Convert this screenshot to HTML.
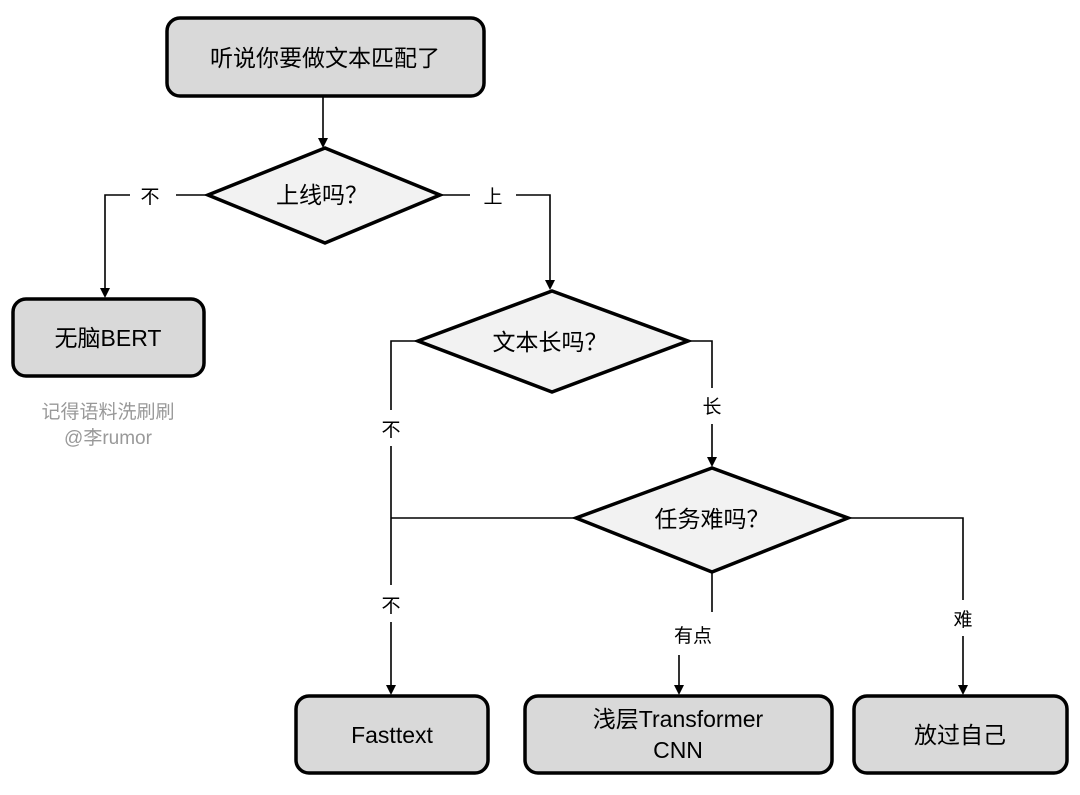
<!DOCTYPE html>
<html><head><meta charset="utf-8"><style>
body{margin:0;background:#fff;}
svg text{font-family:"Liberation Sans","Noto Sans CJK SC",sans-serif;}
</style></head><body>
<svg width="1080" height="790" viewBox="0 0 1080 790" xmlns="http://www.w3.org/2000/svg">
<defs><marker id="a" markerWidth="10" markerHeight="10" refX="5" refY="9" orient="auto" markerUnits="userSpaceOnUse"><path d="M0,0 L10,0 L5,10 Z" fill="#000" transform="rotate(0)"/></marker></defs>
<g fill="none" stroke="#000" stroke-width="1.6">
<path d="M323,96 V146"/>
<path d="M208,195 H176 M130,195 H105 V296"/>
<path d="M440,195 H470 M516,195 H550 V288"/>
<path d="M417,341 H391 V410 M391,446 V585 M391,622 V693"/>
<path d="M688,341 H712 V388 M712,424 V465"/>
<path d="M575,518 H391"/>
<path d="M848,518 H963 V600 M963,636 V693"/>
<path d="M712,572 V612 M679,655 V693"/>
</g>
<g fill="#000">
<path d="M318,138 L328,138 L323,148 Z"/>
<path d="M100,288 L110,288 L105,298 Z"/>
<path d="M545,280 L555,280 L550,290 Z"/>
<path d="M707,457 L717,457 L712,467 Z"/>
<path d="M386,685 L396,685 L391,695 Z"/>
<path d="M674,685 L684,685 L679,695 Z"/>
<path d="M958,685 L968,685 L963,695 Z"/>
</g>
<g stroke="#000" stroke-width="3.5" fill="#d9d9d9">
<rect x="167" y="18" width="317" height="78" rx="13"/>
<rect x="13" y="299" width="191" height="77" rx="13"/>
<rect x="296" y="696" width="192" height="77" rx="13"/>
<rect x="525" y="696" width="307" height="77" rx="13"/>
<rect x="854" y="696" width="213" height="77" rx="13"/>
</g>
<g stroke="#000" stroke-width="3.5" fill="#f2f2f2">
<path d="M208,195 L325,148 L440,195 L325,243 Z"/>
<path d="M418,341 L552,291 L688,341 L552,392 Z"/>
<path d="M576,518 L712,468 L848,518 L712,572 Z"/>
</g>
<g font-size="23" text-anchor="middle" fill="#000">
<text x="325" y="66">听说你要做文本匹配了</text>
<text x="108" y="346">无脑BERT</text>
<text x="322" y="203">上线吗？</text>
<text x="550" y="350">文本长吗？</text>
<text x="712" y="527">任务难吗？</text>
<text x="392" y="743">Fasttext</text>
<text x="678" y="727">浅层Transformer</text>
<text x="678" y="758">CNN</text>
<text x="960" y="743">放过自己</text>
</g>
<g font-size="19" text-anchor="middle" fill="#000">
<text x="150" y="203">不</text>
<text x="493" y="203">上</text>
<text x="391" y="436">不</text>
<text x="391" y="612">不</text>
<text x="712" y="413">长</text>
<text x="693" y="642">有点</text>
<text x="963" y="626">难</text>
</g>
<g font-size="19" text-anchor="middle" fill="#999">
<text x="108" y="418">记得语料洗刷刷</text>
<text x="108" y="444">@李rumor</text>
</g>
</svg>
</body></html>
